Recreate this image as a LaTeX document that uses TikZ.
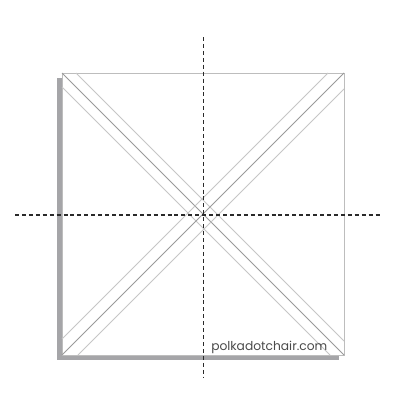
\documentclass[tikz,border=0pt]{standalone}
\usepackage{fontspec}
\newfontfamily\sitefont{Poppins}
\usetikzlibrary{calc}
\definecolor{shadowgray}{HTML}{A5A5A8}
\definecolor{edgegray}{HTML}{BDBDBD}
\definecolor{midgray}{HTML}{9A9A9A}
\definecolor{sidegray}{HTML}{C6C6C6}
\definecolor{foldgray}{HTML}{2A2A2A}
\definecolor{textgray}{HTML}{4A4A4A}
\begin{document}
\begin{tikzpicture}[x=0.75pt,y=-0.75pt,
    midline/.style={draw=midgray, line width=0.7pt},
    sideline/.style={draw=sidegray, line width=0.55pt},
    foldline/.style={draw=foldgray, line width=1.1pt, dash pattern=on 3pt off 2.2pt}]
    \useasboundingbox (0,0) rectangle (400,400);

    % Shadow behind the square
    \fill[shadowgray] (57,78) rectangle (339,360);

    % Front square
    \coordinate (TL) at (62,73);
    \coordinate (TR) at (344,73);
    \coordinate (BR) at (344,355);
    \coordinate (BL) at (62,355);
    \filldraw[fill=white, draw=edgegray, line width=0.7pt] (TL) rectangle (BR);

    % Diagonal strip from top left to bottom right
    \draw[midline] (TL) -- (BR);
    \draw[sideline] ($(TL)+(14,0)$) -- ($(BR)+(0,-14)$);
    \draw[sideline] ($(TL)+(0,14)$) -- ($(BR)+(-14,0)$);

    % Diagonal strip from top right to bottom left
    \draw[midline] (TR) -- (BL);
    \draw[sideline] ($(TR)+(-16,0)$) -- ($(BL)+(0,-16)$);
    \draw[sideline] ($(TR)+(0,16)$) -- ($(BL)+(16,0)$);

    % Fold lines
    \coordinate (Vtop) at (203.5,37);
    \coordinate (Vbot) at (203.5,378);
    \coordinate (Hleft) at (15,215);
    \coordinate (Hright) at (380,215);
    \draw[foldline] (Vtop) -- (Vbot);
    \draw[foldline] (Hleft) -- (Hright);

    % Site name
    \node[anchor=base west, inner sep=0pt, text=textgray, font=\sitefont\fontsize{9.2}{10}\selectfont] (site) at (211,350) {polkadotchair.com};
\end{tikzpicture}
\end{document}
